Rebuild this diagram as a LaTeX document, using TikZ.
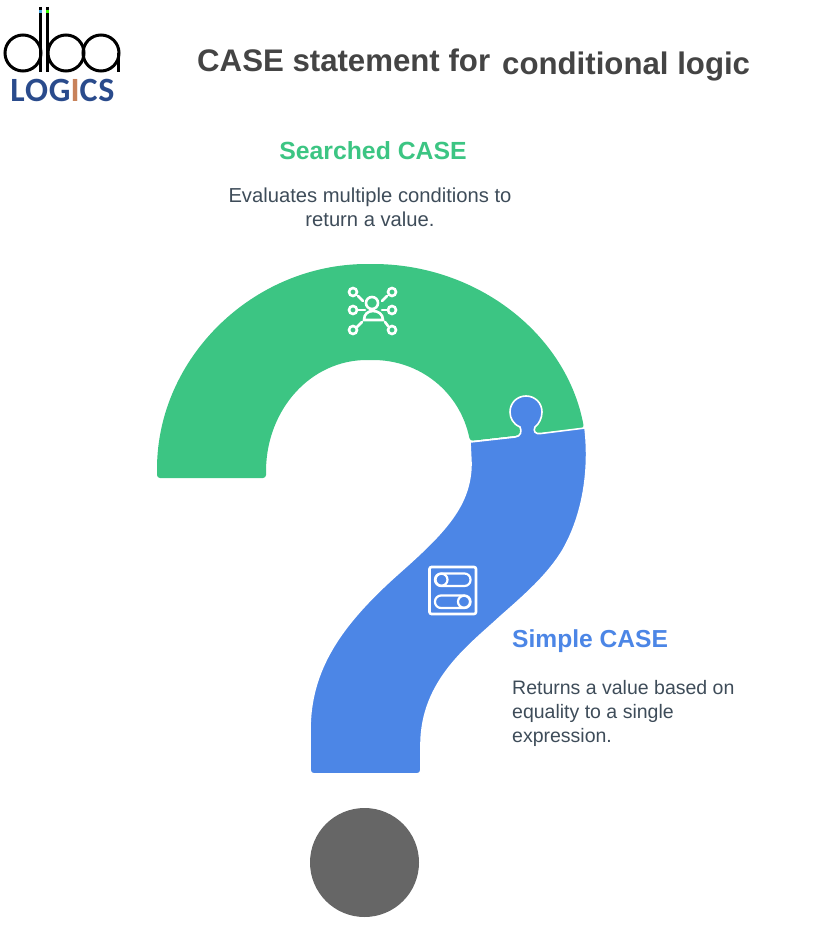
\documentclass[tikz,border=0pt]{standalone}
\usepackage{fontspec}
\setmainfont{Liberation Sans}
\newfontfamily\logofont[LetterSpace=2.4]{Carlito}
\definecolor{casegreen}{HTML}{3CC583}
\definecolor{caseblue}{HTML}{4C86E6}
\definecolor{dotgray}{HTML}{666666}
\definecolor{titlegray}{HTML}{444444}
\definecolor{bodygray}{HTML}{3E4C59}
\definecolor{logoblue}{HTML}{2A4B8C}
\definecolor{logoorange}{HTML}{C8825A}
\tikzset{
  headtext/.style={font=\fontsize{31.2}{36}\selectfont\bfseries, text=titlegray, inner sep=0pt},
  greenhead/.style={font=\fontsize{24.8}{30}\selectfont\bfseries, text=casegreen, inner sep=0pt},
  bluehead/.style={font=\fontsize{24.6}{30}\selectfont\bfseries, text=caseblue, inner sep=0pt},
  bodytext/.style={text=bodygray, inner sep=0pt},
  iconline/.style={draw=white, line width=2.6pt, line cap=round},
  toggleline/.style={draw=white, line width=2.2pt, line cap=round},
  logoline/.style={draw=black, line width=3pt},
}
\begin{document}
\begin{tikzpicture}[x=1pt, y=-1pt]
    \useasboundingbox (0,0) rectangle (833,925);
    % Logo
    \draw[logoline] (23,53) circle (18);
    \draw[logoline] (66,53) circle (18);
    \draw[logoline] (101,53) circle (18);
    \draw[logoline] (40.5,7) -- (40.5,72);
    \draw[logoline] (47.7,7) -- (47.7,72);
    \draw[logoline] (118.5,53) -- (118.5,72);
    \draw[cyan!80!blue!70, line width=3pt] (40.5,10) -- (40.5,13);
    \draw[green!80!yellow, line width=3pt] (47.7,10) -- (47.7,13);
    \node[inner sep=0pt, text=logoblue, font=\fontsize{34}{36}\selectfont\logofont\bfseries] (logo) at (62.5,90.5)
        {LOG{\textcolor{logoorange}{I}}CS};
    % Title
    \node[headtext, anchor=base west] (titleleft) at (197,71.5) {CASE statement for};
    \node[headtext, anchor=base west] (titleright) at (502,74.5) {conditional logic};
    % Green piece
    \fill[casegreen, rounded corners=3pt] (157,478) -- (157,472)
        .. controls (157,358) and (253,264) .. (370,264)
        .. controls (478,264) and (567,335) .. (584,428)
        -- (470,441)
        .. controls (460,392) and (420,360) .. (370,360)
        .. controls (310,360) and (267,410) .. (266,472)
        -- (266,478) -- cycle;
    % Blue piece
    \filldraw[fill=caseblue, draw=white, line width=1.6pt] (470,442) -- (515,437)
        .. controls (521,436.5) and (522,431) .. (520,427)
        .. controls (513,424) and (510,418) .. (510,412)
        .. controls (510,403) and (517,396) .. (526,396)
        .. controls (535,396) and (542,403) .. (542,412)
        .. controls (542,418) and (539,424) .. (535,427)
        .. controls (533,431) and (535,434.5) .. (541,433.5)
        -- (585,428)
        .. controls (590,470) and (583,515) .. (563,550)
        .. controls (548,575) and (525,595) .. (500,617)
        .. controls (470,645) and (421,680) .. (421,745)
        -- (421,770) arc[start angle=0, end angle=90, radius=4] -- (314,774)
        arc[start angle=90, end angle=180, radius=4]
        -- (310,730)
        .. controls (310,670) and (340,625) .. (400,572)
        .. controls (445,532) and (471,505) .. (471,463)
        -- cycle;
    % Dot
    \node[circle, fill=dotgray, minimum size=109pt, inner sep=0pt] (dot) at (364.5,862.5) {};
    % Network icon
    \draw[iconline] (372,303) circle (6);
    \draw[iconline] (364,320) .. controls (364,314) and (368,311) .. (373,311)
        .. controls (378,311) and (383,314) .. (383,320) -- cycle;
    \foreach \cx/\cy/\sx/\sy/\ex/\ey in {353/292/358/296/363/301, 392/292/387/296/382/301,
        353/310/357/310/365/310, 392/310/388/310/382/310,
        353/330/357/327/362/322, 392/330/388/326/385/322} {
        \draw[iconline] (\cx,\cy) circle (4);
        \draw[iconline] (\sx,\sy) -- (\ex,\ey);
    }
    % Toggle icon
    \draw[iconline, rounded corners=2pt] (429.5,567) rectangle (476,614);
    \draw[toggleline, rounded corners=6pt] (435,573.5) rectangle (470.5,586);
    \draw[toggleline, rounded corners=6pt] (435,595.5) rectangle (470.5,608);
    \draw[toggleline] (441.5,579.7) circle (6);
    \draw[toggleline] (464,601.7) circle (6);
    % Labels
    \node[greenhead] (searchedhead) at (373,151) {Searched CASE};
    \node[bodytext, align=center, font=\fontsize{20.2}{24}\selectfont] (searchedbody) at (370,207)
        {Evaluates multiple conditions to\\return a value.};
    \node[bluehead, anchor=west] (simplehead) at (512,641) {Simple CASE};
    \node[bodytext, align=left, anchor=west, font=\fontsize{19.5}{24}\selectfont] (simplebody) at (512,713)
        {Returns a value based on\\equality to a single\\expression.};
\end{tikzpicture}
\end{document}
